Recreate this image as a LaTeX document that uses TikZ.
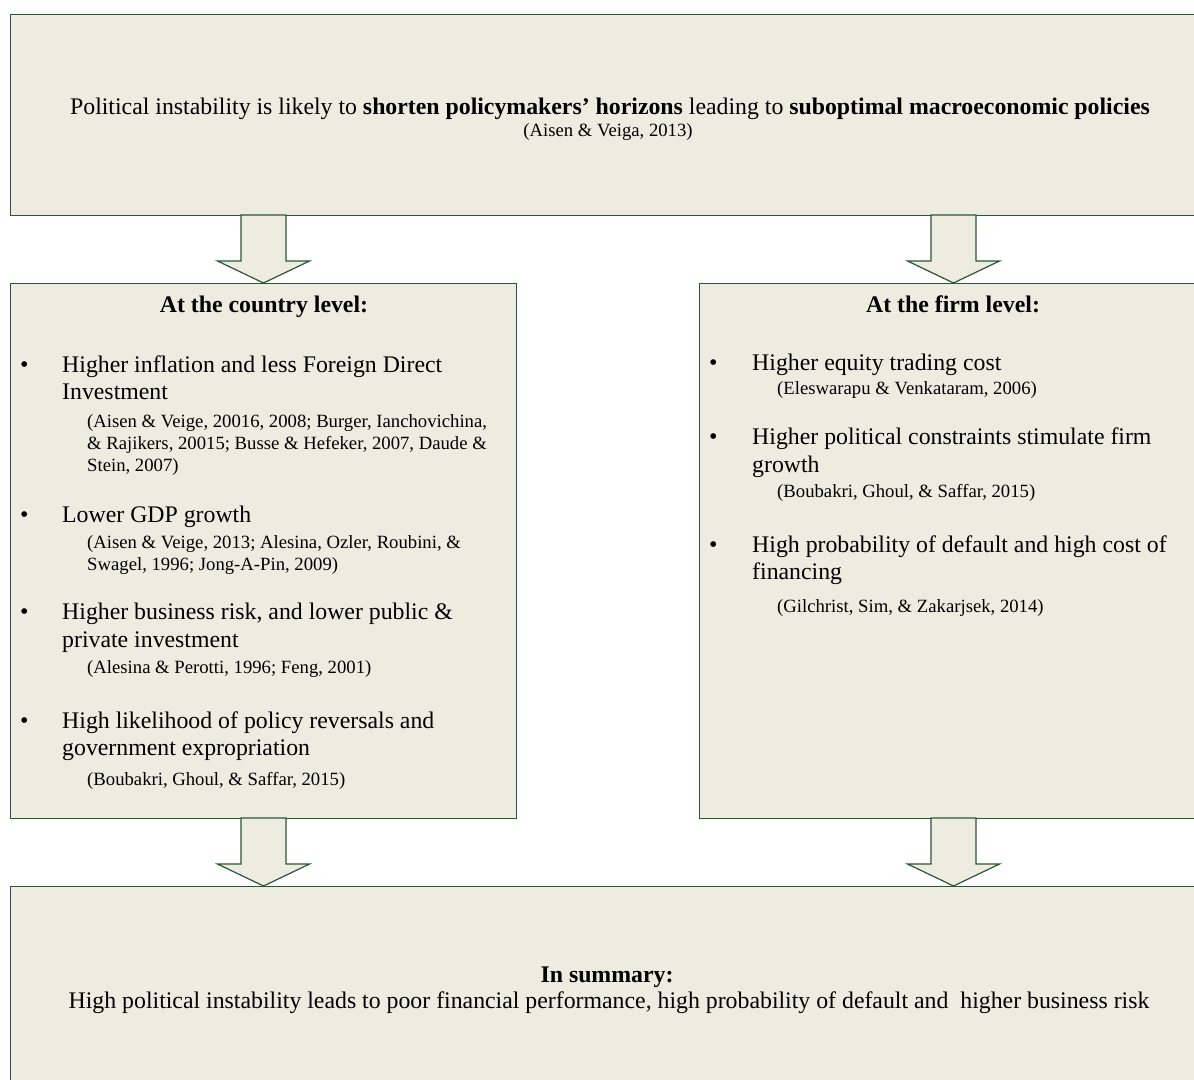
\documentclass[tikz,border=0pt]{standalone}
\usepackage{fontspec}
\setmainfont{Liberation Serif}
\usetikzlibrary{calc}
\definecolor{boxfill}{HTML}{EEECE1}
\definecolor{boxline}{HTML}{2A5636}
\newcommand\blockarr[2]{%
  \draw[barrow] let \p1=(#1), \p2=(#2) in
    (\x1-22.5pt,\y1) -- (\x1+22.5pt,\y1) -- (\x1+22.5pt,\y2+22pt) -- (\x1+46pt,\y2+22pt)
    -- (\x1,\y2) -- (\x1-46pt,\y2+22pt) -- (\x1-22.5pt,\y2+22pt) -- cycle;}
\begin{document}
\begin{tikzpicture}[x=1pt,y=-1pt,
  box/.style={draw=boxline, fill=boxfill, line width=1.2pt, inner sep=0pt, anchor=north west},
  big/.style={font=\fontsize{23.8}{27}\selectfont, inner sep=0pt, anchor=base west},
  bigb/.style={font=\fontsize{23.8}{27}\selectfont\bfseries, inner sep=0pt, anchor=base},
  cite/.style={font=\fontsize{18.7}{21}\selectfont, inner sep=0pt, anchor=base west},
  bul/.style={font=\fontsize{24}{24}\selectfont, inner sep=0pt, anchor=base west},
  barrow/.style={draw=boxline, fill=boxfill, line width=1.2pt, line join=miter}]
\useasboundingbox (0,0) rectangle (1194,1079);
\clip (0,0) rectangle (1194,1079);
% boxes
\node[box, minimum width=1200pt, minimum height=201pt] (top) at (10,14) {};
\node[box, minimum width=506pt, minimum height=535pt] (left) at (10,283) {};
\node[box, minimum width=510pt, minimum height=535pt] (right) at (699,283) {};
\node[box, minimum width=1200pt, minimum height=210pt] (bottom) at (10,886) {};
% arrow end points
\coordinate (a1s) at (263.5,215);  \coordinate (a1e) at (263.5,283);
\coordinate (a2s) at (953.5,215);  \coordinate (a2e) at (953.5,283);
\coordinate (a3s) at (263.5,818);  \coordinate (a3e) at (263.5,886);
\coordinate (a4s) at (953.5,818);  \coordinate (a4e) at (953.5,886);
\blockarr{a1s}{a1e}
\blockarr{a2s}{a2e}
\blockarr{a3s}{a3e}
\blockarr{a4s}{a4e}
% top text
\node[big, anchor=base] (t1) at (610,114) {Political instability is likely to \textbf{shorten policymakers’ horizons} leading to \textbf{suboptimal macroeconomic policies}};
\node[cite, anchor=base] (t2) at (608,136) {(Aisen \& Veiga, 2013)};
% left box
\node[bigb] (lh) at (264,312) {At the country level:};
\node[bul] (lb1) at (20,372) {•};
\node[big] (l1a) at (62,372) {Higher inflation and less Foreign Direct};
\node[big] (l1b) at (62,399) {Investment};
\node[cite] (l1c) at (87,427) {(Aisen \& Veige, 20016, 2008; Burger, Ianchovichina,};
\node[cite] (l1d) at (87,449) {\& Rajikers, 20015; Busse \& Hefeker, 2007, Daude \&};
\node[cite] (l1e) at (87,471) {Stein, 2007)};
\node[bul] (lb2) at (20,522) {•};
\node[big] (l2a) at (62,522) {Lower GDP growth};
\node[cite] (l2b) at (87,548) {(Aisen \& Veige, 2013; Alesina, Ozler, Roubini, \&};
\node[cite] (l2c) at (87,570) {Swagel, 1996; Jong-A-Pin, 2009)};
\node[bul] (lb3) at (20,619) {•};
\node[big] (l3a) at (62,619) {Higher business risk, and lower public \&};
\node[big] (l3b) at (62,647) {private investment};
\node[cite] (l3c) at (87,673) {(Alesina \& Perotti, 1996; Feng, 2001)};
\node[bul] (lb4) at (20,728) {•};
\node[big] (l4a) at (62,728) {High likelihood of policy reversals and};
\node[big] (l4b) at (62,755) {government expropriation};
\node[cite] (l4c) at (87,785) {(Boubakri, Ghoul, \& Saffar, 2015)};
% right box
\node[bigb] (rh) at (953,312) {At the firm level:};
\node[bul] (rb1) at (709,370) {•};
\node[big] (r1a) at (752,370) {Higher equity trading cost};
\node[cite] (r1b) at (777,394) {(Eleswarapu \& Venkataram, 2006)};
\node[bul] (rb2) at (709,444) {•};
\node[big] (r2a) at (752,444) {Higher political constraints stimulate firm};
\node[big] (r2b) at (752,472) {growth};
\node[cite] (r2c) at (777,497) {(Boubakri, Ghoul, \& Saffar, 2015)};
\node[bul] (rb3) at (709,552) {•};
\node[big] (r3a) at (752,552) {High probability of default and high cost of};
\node[big] (r3b) at (752,579) {financing};
\node[cite] (r3c) at (777,612) {(Gilchrist, Sim, \& Zakarjsek, 2014)};
% bottom
\node[bigb] (bh) at (607,982) {In summary:};
\node[big, anchor=base] (b1) at (609,1008) {High political instability leads to poor financial performance, high probability of default and \ higher business risk};
\end{tikzpicture}
\end{document}
